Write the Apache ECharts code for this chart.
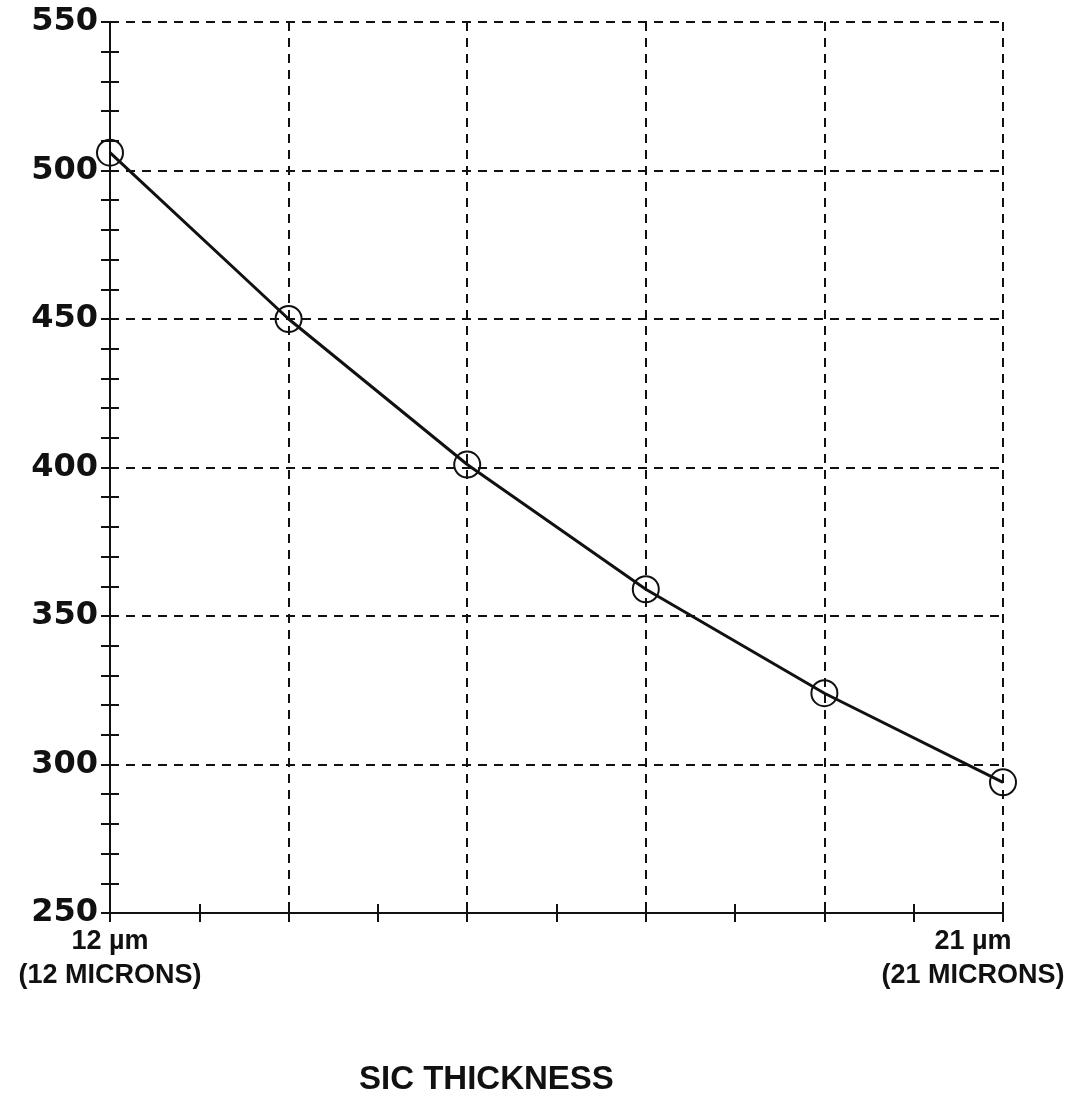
<!DOCTYPE html>
<html>
<head>
<meta charset="utf-8">
<script src="https://cdn.jsdelivr.net/npm/echarts@6/dist/echarts.min.js"></script>
<style>
  html, body { margin: 0; padding: 0; background: #fff; }
  #chart { width: 1072px; height: 1098px; }
</style>
</head>
<body>
<div id="chart"></div>
<script>
// SiC thickness (microns) vs value
const thickness = [12, 13.8, 15.6, 17.4, 19.2, 21];
const values = [506, 450, 401, 359, 324, 294];
const yTicks = [250, 300, 350, 400, 450, 500, 550];
const xStartLabel = ['12 µm', '(12 MICRONS)'];
const xEndLabel = ['21 µm', '(21 MICRONS)'];

const ink = '#111';
const chart = echarts.init(document.getElementById('chart'));

const xBase = {
  type: 'value',
  min: thickness[0],
  max: thickness[thickness.length - 1],
  interval: 1.8,
  axisLine: { show: true, lineStyle: { color: ink, width: 2 } },
  axisTick: { show: true, length: 9, lineStyle: { color: ink, width: 2 } },
  minorTick: { show: true, splitNumber: 2, length: 9, lineStyle: { color: ink, width: 2 } },
  splitLine: { show: false },
  axisLabel: { show: false }
};
const yBase = {
  type: 'value',
  min: yTicks[0],
  max: yTicks[yTicks.length - 1],
  interval: 50,
  axisLine: { show: true, lineStyle: { color: ink, width: 2 } },
  axisTick: { show: true, length: 9, lineStyle: { color: ink, width: 2 } },
  minorTick: { show: true, splitNumber: 5, length: 9, lineStyle: { color: ink, width: 2 } },
  splitLine: { show: false },
  axisLabel: { show: false }
};

const labelFont = { fontFamily: 'Liberation Sans', fontWeight: 'bold', fontSize: 27, color: ink, lineHeight: 34 };

chart.setOption({
  animation: false,
  title: {
    text: 'SIC THICKNESS',
    left: 354,
    top: 1058,
    textStyle: { fontFamily: 'Liberation Sans', fontWeight: 'bold', fontSize: 33, color: ink }
  },
  grid: { left: 110, right: 69, top: 22, bottom: 185, outerBoundsMode: 'none', containLabel: false },
  xAxis: [
    Object.assign({}, xBase, {
      splitLine: { show: true, lineStyle: { color: ink, width: 2, type: [9, 7] } },
      axisLabel: Object.assign({
        show: true,
        showMinLabel: true,
        showMaxLabel: true,
        margin: 12,
        rich: {
          a: Object.assign({}, labelFont),
          b: Object.assign({ padding: [0, 60, 0, 0] }, labelFont)
        },
        formatter: function (v) {
          if (Math.abs(v - thickness[0]) < 0.01) return '{a|' + xStartLabel[0] + '}\n{a|' + xStartLabel[1] + '}';
          if (Math.abs(v - thickness[thickness.length - 1]) < 0.01) return '{b|' + xEndLabel[0] + '}\n{b|' + xEndLabel[1] + '}';
          return '';
        }
      }, labelFont)
    }),
    Object.assign({}, xBase, { position: 'bottom', axisTick: Object.assign({}, xBase.axisTick, { inside: true }) })
  ],
  yAxis: [
    Object.assign({}, yBase, {
      splitLine: { show: true, lineStyle: { color: ink, width: 2, type: [9, 7] } },
      axisLabel: {
        show: true,
        margin: 12,
        fontFamily: 'DejaVu Sans',
        fontWeight: 'bold',
        fontSize: 32,
        color: ink
      }
    }),
    Object.assign({}, yBase, { position: 'left', axisTick: Object.assign({}, yBase.axisTick, { inside: true }) })
  ],
  series: [{
    type: 'line',
    data: thickness.map((t, i) => [t, values[i]]),
    symbol: 'circle',
    symbolSize: 26,
    lineStyle: { color: ink, width: 3 },
    itemStyle: { color: 'rgba(0,0,0,0)', borderColor: ink, borderWidth: 2 }
  }]
});
</script>
</body>
</html>
